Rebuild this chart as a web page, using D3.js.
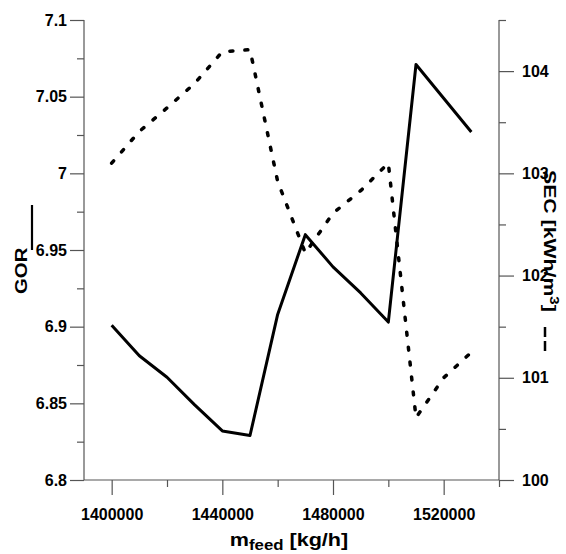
<!DOCTYPE html>
<html>
<head>
<meta charset="utf-8">
<script src="https://cdn.jsdelivr.net/npm/d3@7"></script>
<style>
  html, body { margin: 0; padding: 0; background: #fff; }
  svg { display: block; }
  text { font-family: "Liberation Sans", Arial, sans-serif; font-weight: bold; fill: #000; }
</style>
</head>
<body>
<svg id="chart" width="566" height="554"></svg>
<script>
// ---- data ----
const mfeed = [1400000, 1410000, 1420000, 1430000, 1440000, 1450000, 1460000,
               1470000, 1480000, 1490000, 1500000, 1510000, 1520000, 1530000];
const gor = [6.901, 6.881, 6.867, 6.849, 6.832, 6.829, 6.908,
             6.960, 6.939, 6.922, 6.903, 7.071, 7.049, 7.027];
const sec = [103.10, 103.41, 103.64, 103.88, 104.19, 104.21, 102.92,
             102.22, 102.61, 102.83, 103.10, 100.61, 101.00, 101.25];

const xMajorTicks = [1400000, 1440000, 1480000, 1520000];
const xMinorTicks = [1420000, 1460000, 1500000, 1540000];
const gorMajorTicks = [6.8, 6.85, 6.9, 6.95, 7, 7.05, 7.1];
const gorMinorTicks = [6.825, 6.875, 6.925, 6.975, 7.025, 7.075];
const secMajorTicks = [100, 101, 102, 103, 104];
const secMinorTicks = [100.5, 101.5, 102.5, 103.5, 104.5];

const xTitle = ["m", "feed", " [kg/h]"];
const leftTitle = "GOR";
const rightTitle = ["SEC [kWh/m", "3", "]"];

// ---- layout ----
const L = 84, R = 499, T = 20, B = 480;
const svg = d3.select("#chart");

const x = d3.scaleLinear().domain([1390000, 1540000]).range([L, R]);
const yL = d3.scaleLinear().domain([6.8, 7.1]).range([B, T]);
const yR = d3.scaleLinear().domain([100, 104.5]).range([B, T]);

const axisColor = "#555";

function styleAxis(g) {
  g.select(".domain").remove();
  g.attr("font-family", null).attr("font-size", 16);
  g.selectAll(".tick line").attr("stroke", axisColor).attr("stroke-width", 1.2);
}

// bottom axis
svg.append("g").attr("transform", `translate(0,${B})`)
  .call(d3.axisBottom(x).tickValues(xMajorTicks).tickSize(15).tickPadding(14).tickFormat(d3.format("d")))
  .call(styleAxis);
svg.append("g").attr("transform", `translate(0,${B})`)
  .call(d3.axisBottom(x).tickValues(xMinorTicks).tickSize(7).tickFormat(""))
  .call(styleAxis);

// left axis
svg.append("g").attr("transform", `translate(${L},0)`)
  .call(d3.axisLeft(yL).tickValues(gorMajorTicks).tickSize(14).tickPadding(3).tickFormat(d => String(+d.toFixed(3))))
  .call(styleAxis);
svg.append("g").attr("transform", `translate(${L},0)`)
  .call(d3.axisLeft(yL).tickValues(gorMinorTicks).tickSize(7).tickFormat(""))
  .call(styleAxis);

// right axis
svg.append("g").attr("transform", `translate(${R},0)`)
  .call(d3.axisRight(yR).tickValues(secMajorTicks).tickSize(15).tickPadding(8).tickFormat(d3.format("d")))
  .call(styleAxis);
svg.append("g").attr("transform", `translate(${R},0)`)
  .call(d3.axisRight(yR).tickValues(secMinorTicks).tickSize(7).tickFormat(""))
  .call(styleAxis);

// axis lines
svg.append("line").attr("x1", L).attr("x2", L).attr("y1", T).attr("y2", B)
  .attr("stroke", axisColor).attr("stroke-width", 1.2);
svg.append("line").attr("x1", R).attr("x2", R).attr("y1", T).attr("y2", B)
  .attr("stroke", axisColor).attr("stroke-width", 1.2);
svg.append("line").attr("x1", L).attr("x2", R).attr("y1", B).attr("y2", B)
  .attr("stroke", axisColor).attr("stroke-width", 1.2);

// series
const pts = mfeed.map((m, i) => ({ m, g: gor[i], s: sec[i] }));

svg.append("path").datum(pts)
  .attr("fill", "none").attr("stroke", "#000").attr("stroke-width", 3)
  .attr("stroke-linejoin", "round")
  .attr("d", d3.line().x(d => x(d.m)).y(d => yL(d.g)));

svg.append("path").datum(pts)
  .attr("fill", "none").attr("stroke", "#000").attr("stroke-width", 3.5)
  .attr("stroke-dasharray", "3,12").attr("stroke-linecap", "round")
  .attr("stroke-linejoin", "round")
  .attr("d", d3.line().x(d => x(d.m)).y(d => yR(d.s)));

// x title
const xt = svg.append("text").attr("text-anchor", "middle")
  .attr("transform", "translate(289,546) scale(1.2,1)");
xt.append("tspan").attr("font-size", 18).text(xTitle[0]);
xt.append("tspan").attr("font-size", 14).attr("dy", 4).text(xTitle[1]);
xt.append("tspan").attr("font-size", 18).attr("dy", -4).text(xTitle[2]);

// left title + solid line swatch
svg.append("text").attr("font-size", 17).attr("text-anchor", "start")
  .attr("transform", "translate(27,294) rotate(-90) scale(1.2,1)")
  .text(leftTitle);
svg.append("line").attr("x1", 32).attr("x2", 32).attr("y1", 250).attr("y2", 205)
  .attr("stroke", "#000").attr("stroke-width", 2.2);

// right title + dashed line swatch
const rt = svg.append("text").attr("font-size", 17).attr("text-anchor", "start")
  .attr("transform", "translate(544,170) rotate(90) scale(1.25,1)");
rt.append("tspan").text(rightTitle[0]);
rt.append("tspan").attr("font-size", 12).attr("dy", -6).text(rightTitle[1]);
rt.append("tspan").attr("dy", 6).text(rightTitle[2]);
svg.append("line").attr("x1", 545).attr("x2", 545).attr("y1", 327).attr("y2", 351)
  .attr("stroke", "#000").attr("stroke-width", 2.5).attr("stroke-dasharray", "10,4");
</script>
</body>
</html>
